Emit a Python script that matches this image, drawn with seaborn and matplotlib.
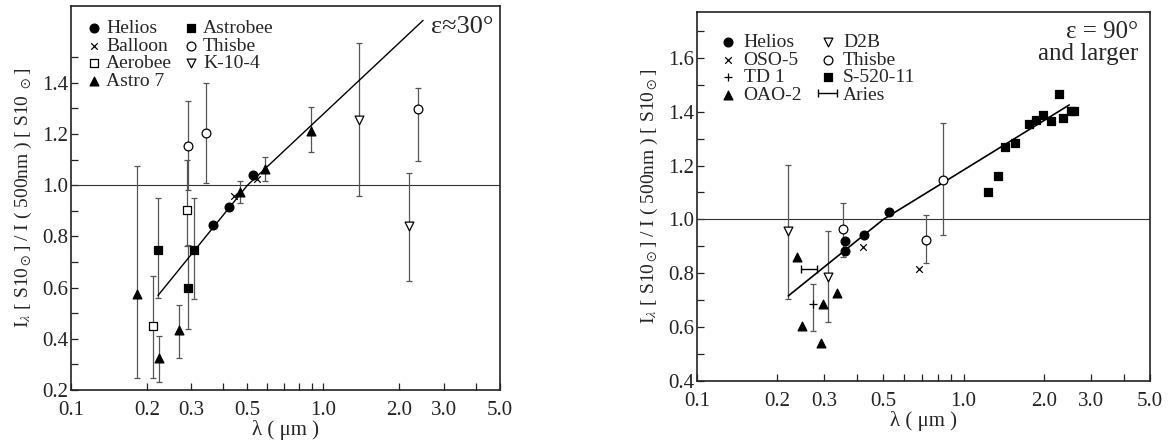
import numpy as np
import pandas as pd
import seaborn as sns
import matplotlib
matplotlib.use("Agg")
import matplotlib.pyplot as plt

# ---- left panel (eps ~ 30 deg) ----
L_HELIOS_X = [0.366, 0.424, 0.527]
L_HELIOS_Y = [0.846, 0.916, 1.040]
L_BALLOON_X = [0.441, 0.545]
L_BALLOON_Y = [0.957, 1.025]
L_AEROBEE_X = [0.211, 0.289]
L_AEROBEE_Y = [0.452, 0.905]
L_AEROBEE_LO = [0.248, 0.762]
L_AEROBEE_HI = [0.647, 1.100]
L_ASTRO7_X = [0.182, 0.224, 0.267, 0.468, 0.588, 0.892]
L_ASTRO7_Y = [0.575, 0.327, 0.435, 0.974, 1.064, 1.212]
L_ASTRO7_LO = [0.247, 0.230, 0.324, 0.931, 1.018, 1.131]
L_ASTRO7_HI = [1.075, 0.412, 0.532, 1.016, 1.111, 1.305]
L_ASTROBEE_X = [0.221, 0.290, 0.308]
L_ASTROBEE_Y = [0.748, 0.599, 0.746]
L_ASTROBEE_LO = [0.561, 0.438, 0.556]
L_ASTROBEE_HI = [0.951, 0.765, 0.951]
L_THISBE_X = [0.291, 0.3415, 2.375]
L_THISBE_Y = [1.153, 1.203, 1.298]
L_THISBE_LO = [0.980, 1.009, 1.093]
L_THISBE_HI = [1.329, 1.398, 1.379]
L_K104_X = [1.386, 2.175]
L_K104_Y = [1.255, 0.839]
L_K104_LO = [0.957, 0.627]
L_K104_HI = [1.555, 1.046]
L_FIT_X = [0.221, 0.50, 2.48]
L_FIT_Y = [0.569, 1.00, 1.644]

# ---- right panel (eps = 90 deg and larger) ----
R_HELIOS_X = [0.36, 0.36, 0.424, 0.526]
R_HELIOS_Y = [0.920, 0.881, 0.942, 1.026]
R_OSO5_X = [0.421, 0.679]
R_OSO5_Y = [0.897, 0.817]
R_TD1_X = [0.2716]
R_TD1_Y = [0.685]
R_TD1_LO = [0.585]
R_TD1_HI = [0.760]
R_OAO2_X = [0.237, 0.248, 0.291, 0.298, 0.335]
R_OAO2_Y = [0.862, 0.604, 0.543, 0.685, 0.725]
R_D2B_X = [0.2195, 0.311]
R_D2B_Y = [0.958, 0.786]
R_D2B_LO = [0.703, 0.620]
R_D2B_HI = [1.203, 0.958]
R_THISBE_X = [0.353, 0.723, 0.835]
R_THISBE_Y = [0.966, 0.922, 1.148]
R_THISBE_LO = [0.860, 0.840, 0.944]
R_THISBE_HI = [1.062, 1.017, 1.357]
R_S520_X = [1.238, 1.346, 1.426, 1.563, 1.759, 1.874, 1.985, 2.133, 2.286, 2.366, 2.522, 2.60]
R_S520_Y = [1.101, 1.160, 1.269, 1.283, 1.353, 1.370, 1.388, 1.364, 1.466, 1.375, 1.401, 1.401]
R_ARIES_X = [0.263]
R_ARIES_Y = [0.817]
R_ARIES_XLO = [0.245]
R_ARIES_XHI = [0.282]
R_FIT_X = [0.22, 0.50, 2.49]
R_FIT_Y = [0.716, 1.00, 1.425]

XTICKS = [0.1, 0.2, 0.3, 0.4, 0.5, 0.6, 0.7, 0.8, 0.9, 1.0, 2.0, 3.0, 4.0, 5.0]
XLABELED = ["0.1", "0.2", "0.3", "0.5", "1.0", "2.0", "3.0", "5.0"]

sns.set_theme(style="ticks")
plt.rcParams["font.family"] = ["Liberation Serif", "DejaVu Serif"]
plt.rcParams["mathtext.fontset"] = "stix"

ERR_C = "#555555"


def pts(ax, x, y, marker, face, label, s=40, lw=0.9):
    df = pd.DataFrame({"x": x, "y": y})
    if marker in ("x", "+"):
        sns.scatterplot(data=df, x="x", y="y", marker=marker, color="black",
                        s=s, linewidth=lw, label=label, ax=ax, zorder=4)
    else:
        sns.scatterplot(data=df, x="x", y="y", marker=marker, color=face,
                        edgecolor="black", s=s, linewidth=lw, label=label,
                        ax=ax, zorder=4)


def errs(ax, x, y, lo, hi, color=ERR_C):
    y = np.array(y); lo = np.array(lo); hi = np.array(hi)
    ax.errorbar(x, y, yerr=[y - lo, hi - y], fmt="none", ecolor=color,
                elinewidth=0.9, capsize=2.5, capthick=0.9, zorder=2)


def style_axes(ax, ylo, yhi, yt, ylabels):
    ax.set_xscale("log")
    ax.set_xlim(0.1, 5.0)
    ax.set_ylim(ylo, yhi)
    ax.set_xticks(XTICKS)
    ax.set_xticklabels([f"{t:.1f}" if f"{t:.1f}" in XLABELED else "" for t in XTICKS])
    ax.xaxis.set_minor_locator(matplotlib.ticker.NullLocator())
    ax.set_yticks(yt)
    ax.set_yticklabels([f"{t:.1f}" if f"{t:.1f}" in ylabels else "" for t in yt])
    ax.tick_params(axis="both", direction="in", length=5, width=0.9,
                   labelsize=15, colors="#222222")
    ax.tick_params(axis="x", pad=8)
    ax.tick_params(axis="y", pad=2)
    for sp in ax.spines.values():
        sp.set_visible(True)
        sp.set_linewidth(1.2)
        sp.set_color("#222222")
    ax.axhline(1.0, color="#333333", lw=0.8, zorder=1)
    ax.set_xlabel("λ ( μm )", fontsize=15, labelpad=0)


fig = plt.figure(figsize=(11.69, 4.41), dpi=100)
axL = fig.add_axes([0.0607, 0.1156, 0.367, 0.8707])
axR = fig.add_axes([0.5962, 0.136, 0.3875, 0.8367])

# left panel
errs(axL, L_AEROBEE_X, L_AEROBEE_Y, L_AEROBEE_LO, L_AEROBEE_HI)
errs(axL, L_ASTRO7_X, L_ASTRO7_Y, L_ASTRO7_LO, L_ASTRO7_HI)
errs(axL, L_ASTROBEE_X, L_ASTROBEE_Y, L_ASTROBEE_LO, L_ASTROBEE_HI)
errs(axL, L_THISBE_X, L_THISBE_Y, L_THISBE_LO, L_THISBE_HI)
errs(axL, L_K104_X, L_K104_Y, L_K104_LO, L_K104_HI)
axL.plot(L_FIT_X, L_FIT_Y, color="black", lw=1.0, zorder=3)
pts(axL, L_HELIOS_X, L_HELIOS_Y, "o", "black", "Helios")
pts(axL, L_BALLOON_X, L_BALLOON_Y, "x", "black", "Balloon", s=22)
pts(axL, L_AEROBEE_X, L_AEROBEE_Y, "s", "white", "Aerobee")
pts(axL, L_ASTRO7_X, L_ASTRO7_Y, "^", "black", "Astro 7")
pts(axL, L_ASTROBEE_X, L_ASTROBEE_Y, "s", "black", "Astrobee")
pts(axL, L_THISBE_X, L_THISBE_Y, "o", "white", "Thisbe")
pts(axL, L_K104_X, L_K104_Y, "v", "white", "K-10-4")
style_axes(axL, 0.2, 1.7, np.round(np.arange(0.2, 1.51, 0.1), 1),
           ["0.2", "0.4", "0.6", "0.8", "1.0", "1.2", "1.4"])
axL.set_ylabel(r"I$_\lambda$ [ S10$_\odot$] / I ( 500nm ) [ S10 $_\odot$]",
               fontsize=14, labelpad=6)
axL.legend(loc="upper left", ncol=2, frameon=False, fontsize=14,
           handletextpad=0.1, columnspacing=0.5, labelspacing=0.0,
           borderaxespad=0.5, handlelength=1.0, borderpad=0.2)
axL.text(0.985, 0.975, "ε≈30°", transform=axL.transAxes, ha="right",
         va="top", fontsize=19)

# right panel
errs(axR, R_D2B_X, R_D2B_Y, R_D2B_LO, R_D2B_HI)
errs(axR, R_THISBE_X, R_THISBE_Y, R_THISBE_LO, R_THISBE_HI)
errs(axR, R_TD1_X, R_TD1_Y, R_TD1_LO, R_TD1_HI)
axR.plot(R_FIT_X, R_FIT_Y, color="black", lw=1.2, zorder=3)
pts(axR, R_HELIOS_X, R_HELIOS_Y, "o", "black", "Helios")
pts(axR, R_OSO5_X, R_OSO5_Y, "x", "black", "OSO-5", s=22)
pts(axR, R_TD1_X, R_TD1_Y, "+", "black", "TD 1", s=30)
pts(axR, R_OAO2_X, R_OAO2_Y, "^", "black", "OAO-2")
pts(axR, R_D2B_X, R_D2B_Y, "v", "white", "D2B")
pts(axR, R_THISBE_X, R_THISBE_Y, "o", "white", "Thisbe")
pts(axR, R_S520_X, R_S520_Y, "s", "black", "S-520-11", s=32)
ax_x = np.array(R_ARIES_X)
axR.errorbar(R_ARIES_X, R_ARIES_Y,
             xerr=[ax_x - np.array(R_ARIES_XLO), np.array(R_ARIES_XHI) - ax_x],
             fmt="none", ecolor="black", elinewidth=1.0, capsize=3,
             capthick=1.0, label="Aries", zorder=3)
style_axes(axR, 0.4, 1.77, np.round(np.arange(0.4, 1.71, 0.1), 1),
           ["0.4", "0.6", "0.8", "1.0", "1.2", "1.4", "1.6"])
axR.set_ylabel(r"I$_\lambda$ [ S10$_\odot$] / I ( 500nm ) [ S10$_\odot$]",
               fontsize=14, labelpad=6)
h, l = axR.get_legend_handles_labels()
order = ["Helios", "OSO-5", "TD 1", "OAO-2", "D2B", "Thisbe", "S-520-11", "Aries"]
hl = dict(zip(l, h))
axR.legend([hl[k] for k in order], order, loc="upper left", ncol=2,
           frameon=False, fontsize=14, handletextpad=0.3, columnspacing=0.8,
           labelspacing=0.0, borderaxespad=0.8, handlelength=1.0, borderpad=0.3)
axR.text(0.975, 0.975, "ε = 90°\nand larger", transform=axR.transAxes,
         ha="right", va="top", fontsize=18, linespacing=1.0)

fig.savefig("out.png", dpi=100)
